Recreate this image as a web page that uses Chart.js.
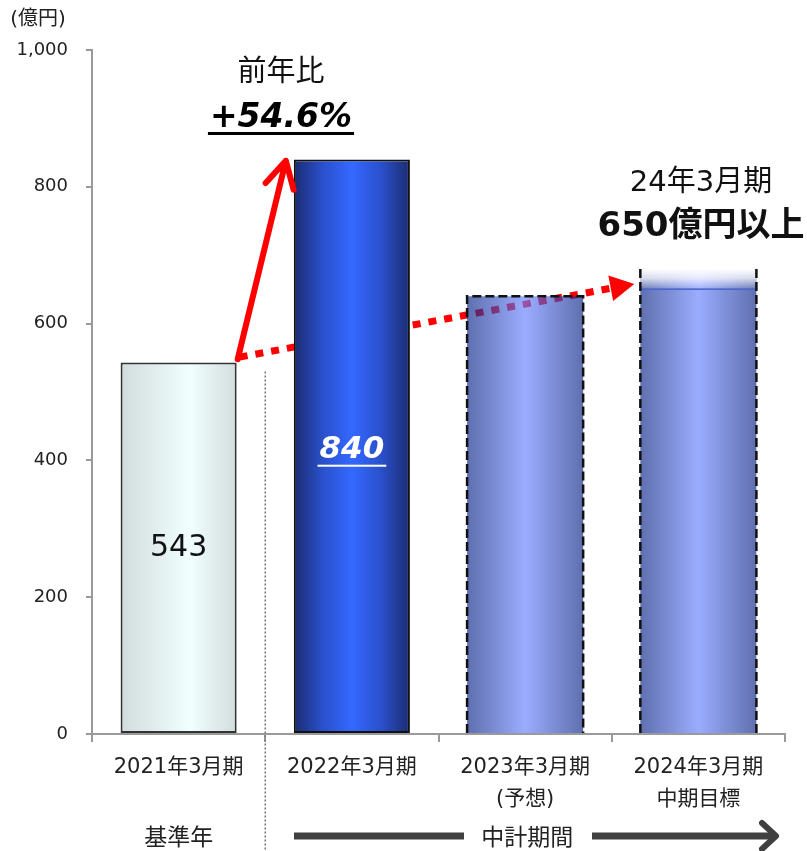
<!DOCTYPE html>
<html>
<head>
<meta charset="utf-8">
<script src="https://cdn.jsdelivr.net/npm/chart.js@4.4.0/dist/chart.umd.min.js"></script>
<style>
  body { margin: 0; background: #fff; }
  canvas { display: block; }
</style>
</head>
<body>
<canvas id="chart" width="807" height="851"></canvas>
<script>
// 売上高（億円）
const periods = [['2021年3月期'], ['2022年3月期'], ['2023年3月期', '(予想)'], ['2024年3月期', '中期目標']];
const sales = [543, 840, 640, 650];
const targetExtra = [null, null, null, 30];   // 「以上」部分のぼかし
const yMin = 0;
const yMax = 1000;
const yStep = 200;
const growthTitle = '前年比';
const growthText = '+54.6%';
const targetTitle = '24年3月期';
const targetText = '650億円以上';
const baseYearText = '基準年';
const planText = '中計期間';
const unitText = '(億円)';

const BAR_PCT = 0.67;
const JP = '"DejaVu Sans", "Noto Sans CJK JP", sans-serif';

// bar gradients (left -> right)
const barStops = [
  [[0, '#d2dcdc'], [0.6, '#f1ffff'], [1, '#d2dcdc']],
  [[0, '#1a2b70'], [0.25, '#2a50cc'], [0.5, '#3468ff'], [0.75, '#2a50cc'], [1, '#1a2b70']],
  [[0, 'rgba(9,34,131,0.65)'], [0.5, 'rgba(101,128,255,0.65)'], [1, 'rgba(9,34,131,0.65)']],
  [[0, 'rgba(9,34,131,0.65)'], [0.5, 'rgba(101,128,255,0.65)'], [1, 'rgba(9,34,131,0.65)']]
];

function barGradient(ctx) {
  const chart = ctx.chart;
  const xs = chart.scales.x;
  if (ctx.type !== 'data' || !xs || !chart.chartArea) return '#888';
  const i = ctx.dataIndex;
  const cx = xs.getPixelForValue(i);
  const half = xs.width / periods.length * BAR_PCT / 2;
  const g = chart.ctx.createLinearGradient(cx - half, 0, cx + half, 0);
  barStops[i].forEach(([o, c]) => g.addColorStop(o, c));
  return g;
}

function arrowHead(c, x1, y1, x2, y2, len, half) {
  const a = Math.atan2(y2 - y1, x2 - x1);
  c.beginPath();
  c.moveTo(x2, y2);
  c.lineTo(x2 - len * Math.cos(a) + half * Math.sin(a), y2 - len * Math.sin(a) - half * Math.cos(a));
  c.lineTo(x2 - len * Math.cos(a) - half * Math.sin(a), y2 - len * Math.sin(a) + half * Math.cos(a));
  c.closePath();
  c.fill();
}

function underlined(c, text, x, y, color, thick, gap) {
  c.fillStyle = color;
  c.fillText(text, x, y);
  const w = c.measureText(text).width;
  c.fillRect(x - w / 2 - 2, y + gap, w + 4, thick);
}

const decor = {
  id: 'decor',
  beforeDatasetsDraw(chart) {
    // dotted trend arrow, partly hidden behind the bars
    const c = chart.ctx, ys = chart.scales.y;
    const bars = chart.getDatasetMeta(0).data;
    const x1 = bars[0].x + bars[0].width / 2 + 3, y1 = ys.getPixelForValue(551);
    const x2 = bars[3].x - bars[3].width / 2 - 6, y2 = ys.getPixelForValue(658);
    const a = Math.atan2(y2 - y1, x2 - x1);
    c.save();
    c.strokeStyle = '#ff0000';
    c.fillStyle = '#ff0000';
    c.lineWidth = 7;
    c.setLineDash([8, 8]);
    c.beginPath();
    c.moveTo(x1, y1);
    c.lineTo(x2 - 20 * Math.cos(a), y2 - 20 * Math.sin(a));
    c.stroke();
    c.setLineDash([]);
    arrowHead(c, x1, y1, x2, y2, 24, 13);
    c.restore();
  },
  afterDatasetsDraw(chart) {
    const c = chart.ctx, ys = chart.scales.y;
    const bars = chart.getDatasetMeta(0).data;
    const fade = chart.getDatasetMeta(1).data[3];

    // soft top of the target bar
    c.save();
    const fl = fade.x - fade.width / 2;
    const wg = c.createLinearGradient(0, fade.y, 0, fade.base);
    wg.addColorStop(0, 'rgba(255,255,255,1)');
    wg.addColorStop(0.45, 'rgba(255,255,255,0.75)');
    wg.addColorStop(1, 'rgba(255,255,255,0.05)');
    c.fillStyle = wg;
    c.fillRect(fl, fade.y, fade.width, fade.base - fade.y);
    c.fillStyle = '#4a62c8';
    c.fillRect(fl, fade.base - 1, fade.width, 1.5);

    // dashed outlines for forecast / target
    c.strokeStyle = '#111';
    c.lineWidth = 2.5;
    c.setLineDash([9, 4]);
    const b3 = bars[2];
    const l3 = b3.x - b3.width / 2, r3 = b3.x + b3.width / 2;
    c.beginPath();
    c.moveTo(l3, b3.base);
    c.lineTo(l3, b3.y);
    c.lineTo(r3, b3.y);
    c.lineTo(r3, b3.base);
    c.stroke();
    const b4 = bars[3];
    c.beginPath();
    c.moveTo(b4.x - b4.width / 2, fade.y);
    c.lineTo(b4.x - b4.width / 2, b4.base);
    c.moveTo(b4.x + b4.width / 2, fade.y);
    c.lineTo(b4.x + b4.width / 2, b4.base);
    c.stroke();
    c.setLineDash([]);

    // value labels inside the bars
    c.textAlign = 'center';
    c.textBaseline = 'middle';
    c.font = '30px "DejaVu Sans"';
    c.fillStyle = '#111';
    c.fillText(String(sales[0]), bars[0].x, ys.getPixelForValue(sales[0] / 2));
    c.font = 'italic bold 31px "DejaVu Sans"';
    underlined(c, String(sales[1]), bars[1].x, ys.getPixelForValue(sales[1] / 2) + 3, '#ffffff', 2, 15);

    // solid growth arrow
    const sx = bars[0].x + bars[0].width / 2 + 1, sy = ys.getPixelForValue(548);
    const tx = bars[1].x - bars[1].width / 2 - 8, ty = ys.getPixelForValue(838);
    const a = Math.atan2(ty - sy, tx - sx);
    c.strokeStyle = '#ff0000';
    c.lineWidth = 6;
    c.lineCap = 'round';
    c.lineJoin = 'round';
    c.beginPath();
    c.moveTo(sx, sy);
    c.lineTo(tx, ty);
    c.moveTo(tx - 30 * Math.cos(a - 0.5), ty - 30 * Math.sin(a - 0.5));
    c.lineTo(tx, ty);
    c.lineTo(tx - 30 * Math.cos(a + 0.5), ty - 30 * Math.sin(a + 0.5));
    c.stroke();
    c.restore();
  },
  afterDraw(chart) {
    const c = chart.ctx, xs = chart.scales.x, ys = chart.scales.y;
    c.save();

    // separator between the base year and the plan period
    const sepX = (xs.getPixelForValue(0) + xs.getPixelForValue(1)) / 2;
    c.strokeStyle = '#777';
    c.lineWidth = 1.5;
    c.setLineDash([2, 2]);
    c.beginPath();
    c.moveTo(sepX, ys.getPixelForValue(530));
    c.lineTo(sepX, chart.height);
    c.stroke();
    c.setLineDash([]);

    c.textAlign = 'center';
    c.textBaseline = 'middle';
    c.fillStyle = '#222';
    c.font = '20px ' + JP;
    c.fillText(unitText, 38, 20);

    c.fillStyle = '#111';
    c.font = '29px ' + JP;
    c.fillText(growthTitle, 281, 73);
    c.font = 'italic bold 33px "DejaVu Sans"';
    underlined(c, growthText, 281, 118, '#000', 3, 14);

    c.fillStyle = '#111';
    c.font = '29px ' + JP;
    c.fillText(targetTitle, 701, 183);
    c.font = 'bold 34px "DejaVu Sans", "Noto Sans CJK JP"';
    c.fillText(targetText, 701, 227);

    // bottom row: base year / plan period arrow
    c.fillStyle = '#222';
    c.font = '23px "Noto Sans CJK JP"';
    c.fillText(baseYearText, xs.getPixelForValue(0), 836);
    const pc = xs.getPixelForValue(2) + 2;
    c.fillText(planText, pc, 836);
    c.strokeStyle = '#404040';
    c.fillStyle = '#404040';
    c.lineWidth = 7;
    c.beginPath();
    c.moveTo(294, 836);
    c.lineTo(464, 836);
    c.moveTo(592, 836);
    c.lineTo(774, 836);
    c.stroke();
    c.lineCap = 'round';
    c.lineJoin = 'round';
    c.lineWidth = 6;
    c.beginPath();
    c.moveTo(762, 823);
    c.lineTo(776, 836);
    c.lineTo(762, 849);
    c.stroke();
    c.restore();
  }
};

new Chart(document.getElementById('chart'), {
  type: 'bar',
  data: {
    labels: periods,
    datasets: [
      {
        data: sales,
        backgroundColor: barGradient,
        borderColor: ['#333333', '#111111', 'rgba(0,0,0,0)', 'rgba(0,0,0,0)'],
        borderWidth: [2, 2, 0, 0],
        borderSkipped: false,
        barPercentage: BAR_PCT,
        categoryPercentage: 1,
        stack: 's'
      },
      {
        data: targetExtra,
        backgroundColor: barGradient,
        borderWidth: 0,
        barPercentage: BAR_PCT,
        categoryPercentage: 1,
        stack: 's'
      }
    ]
  },
  options: {
    responsive: false,
    animation: false,
    locale: 'en-US',
    layout: { padding: { top: 50, right: 22, left: 0, bottom: 0 } },
    plugins: { legend: { display: false }, tooltip: { enabled: false } },
    scales: {
      x: {
        stacked: true,
        offset: true,
        grid: { offset: true, drawOnChartArea: false, tickLength: 8, color: '#9a9a9a', lineWidth: 2 },
        border: { color: '#9a9a9a', width: 2 },
        ticks: {
          color: '#222',
          padding: 9,
          font: { family: JP, size: 21, lineHeight: 1.55 }
        },
        afterFit(scale) { scale.height = 117; }
      },
      y: {
        stacked: true,
        min: yMin,
        max: yMax,
        grid: { drawOnChartArea: false, tickLength: 6, color: '#9a9a9a', lineWidth: 2 },
        border: { color: '#9a9a9a', width: 2 },
        ticks: {
          stepSize: yStep,
          color: '#222',
          padding: 18,
          font: { family: '"DejaVu Sans"', size: 18 }
        },
        afterFit(scale) { scale.width = 92; }
      }
    }
  },
  plugins: [decor]
});
</script>
</body>
</html>
